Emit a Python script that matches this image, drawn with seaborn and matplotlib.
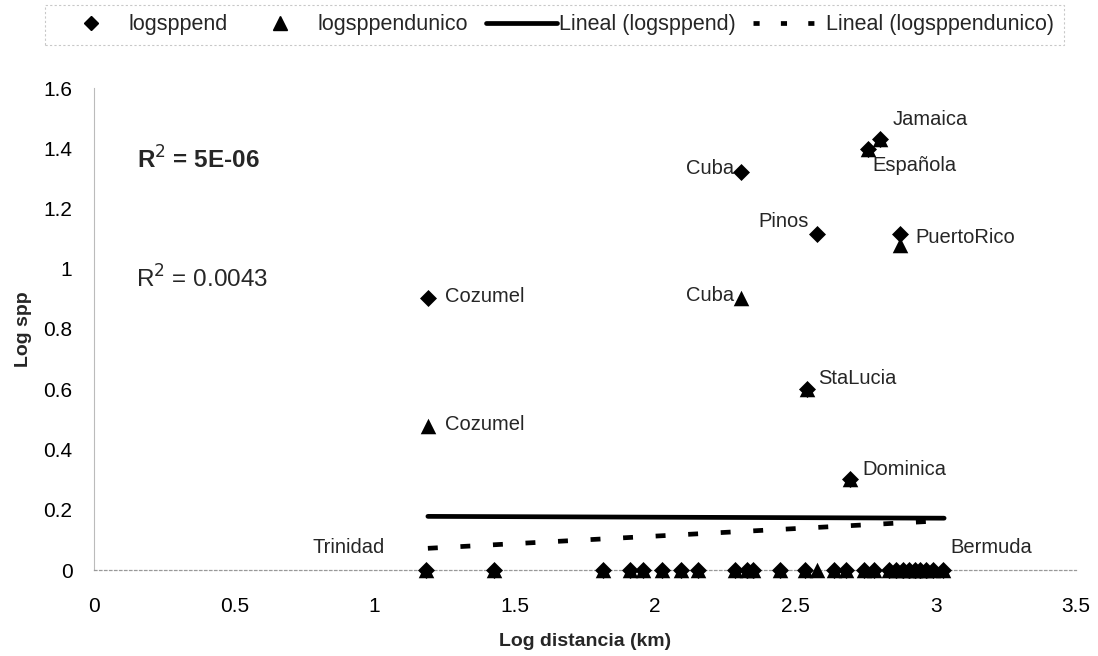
import numpy as np
import pandas as pd
import matplotlib
matplotlib.use("Agg")
import matplotlib.pyplot as plt
import seaborn as sns
from matplotlib.lines import Line2D

# ---------------- data ----------------
islands = ["Cozumel", "Trinidad", "", "", "", "", "", "", "", "", "", "",
           "", "Cuba", "StaLucia", "Pinos", "", "", "Dominica", "", "Española",
           "", "Jamaica", "", "", "PuertoRico", "", "", "", "", "", "", "", "Bermuda"]
log_distancia = [1.19, 1.185, 1.424, 1.814, 1.912, 1.957, 2.024, 2.092, 2.151, 2.286,
                 2.326, 2.350, 2.445, 2.305, 2.540, 2.576, 2.533, 2.636, 2.695, 2.679,
                 2.760, 2.743, 2.802, 2.779, 2.835, 2.873, 2.860, 2.885, 2.905, 2.925,
                 2.945, 2.965, 2.990, 3.027]
logsppend = [0.903, 0, 0, 0, 0, 0, 0, 0, 0, 0,
             0, 0, 0, 1.322, 0.602, 1.114, 0, 0, 0.301, 0,
             1.398, 0, 1.431, 0, 0, 1.114, 0, 0, 0, 0,
             0, 0, 0, 0]
logsppendunico = [0.477, 0, 0, 0, 0, 0, 0, 0, 0, 0,
                  0, 0, 0, 0.903, 0.602, 0, 0, 0, 0.301, 0,
                  1.398, 0, 1.431, 0, 0, 1.079, 0, 0, 0, 0,
                  0, 0, 0, 0]

trend_x = [1.19, 3.03]
trend_logsppend = [0.178, 0.172]
trend_logsppendunico = [0.072, 0.164]

r2_labels = ["R$^2$ = 5E-06", "R$^2$ = 0.0043"]

df = pd.DataFrame({"island": islands, "x": log_distancia,
                   "end": logsppend, "unico": logsppendunico})

# ---------------- style ----------------
sns.set_style("white")
plt.rcParams["font.family"] = ["Liberation Sans", "DejaVu Sans"]

fig = plt.figure(figsize=(10.98, 6.56), dpi=100)
ax = fig.add_axes([94 / 1098, 1 - 570 / 656, (1076 - 94) / 1098, (570 - 88) / 656])

# trend lines
sns.lineplot(x=trend_x, y=trend_logsppend, ax=ax, color="black", linewidth=3.4)
sns.lineplot(x=trend_x, y=trend_logsppendunico, ax=ax, color="black", linewidth=3.4)
ax.lines[-1].set_linestyle((0, (2.1, 4.8)))
ax.lines[-1].set_dash_capstyle("butt")

# points
sns.scatterplot(data=df, x="x", y="end", ax=ax, marker="D", s=75,
                color="black", edgecolor="black", linewidth=0, zorder=3, clip_on=False)
sns.scatterplot(data=df, x="x", y="unico", ax=ax, marker="^", s=125,
                color="black", edgecolor="black", linewidth=0, zorder=4, clip_on=False)

# labels (offsets in points)
lab_font = 14.5
end_offsets = {
    "Cozumel": (12, 1, "left"),
    "Cuba": (-5, 2, "right"),
    "Pinos": (-6, 9, "right"),
    "Jamaica": (9, 14, "left"),
    "Española": (3, -12, "left"),
    "PuertoRico": (11, -2, "left"),
    "StaLucia": (8, 7, "left"),
    "Dominica": (9, 7, "left"),
    "Trinidad": (-30, 16, "right"),
    "Bermuda": (5, 16, "left"),
}
unico_offsets = {
    "Cozumel": (12, 1, "left"),
    "Cuba": (-5, 2, "right"),
}
for name, xv, yv in zip(islands, log_distancia, logsppend):
    if name in end_offsets:
        dx, dy, ha = end_offsets[name]
        ax.annotate(name, (xv, yv), xytext=(dx, dy), textcoords="offset points",
                    ha=ha, va="center", fontsize=lab_font)
for name, xv, yv in zip(islands, log_distancia, logsppendunico):
    if name in unico_offsets:
        dx, dy, ha = unico_offsets[name]
        ax.annotate(name, (xv, yv), xytext=(dx, dy), textcoords="offset points",
                    ha=ha, va="center", fontsize=lab_font)

ax.text(0.155, 1.36, r2_labels[0], fontsize=17.5, fontweight="bold", va="center")
ax.text(0.15, 0.965, r2_labels[1], fontsize=17.5, va="center")

# axes
ax.set_xlim(0, 3.5)
ax.set_ylim(0, 1.6)
ax.set_xticks(np.arange(0, 3.51, 0.5))
ax.set_yticks(np.arange(0, 1.61, 0.2))
ax.set_xticklabels(["0", "0.5", "1", "1.5", "2", "2.5", "3", "3.5"])
ax.set_yticklabels(["0", "0.2", "0.4", "0.6", "0.8", "1", "1.2", "1.4", "1.6"])
ax.tick_params(axis="both", labelsize=15, colors="#999999", labelcolor="black",
               length=3, width=0.8, direction="inout")
ax.tick_params(axis="x", pad=18)
ax.tick_params(axis="y", pad=14)
for s in ["top", "right"]:
    ax.spines[s].set_visible(False)
ax.spines["left"].set_color("#bbbbbb")
ax.spines["left"].set_linewidth(0.8)
ax.spines["bottom"].set_color("#999999")
ax.spines["bottom"].set_linestyle((0, (2, 2)))
ax.spines["bottom"].set_linewidth(0.9)
ax.set_xlabel("Log distancia (km)", fontsize=14, fontweight="bold", labelpad=12)
ax.set_ylabel("Log spp", fontsize=14, fontweight="bold", labelpad=8)
ax.set_facecolor("white")

# legend
handles = [
    Line2D([], [], marker="D", color="black", linestyle="none", markersize=7),
    Line2D([], [], marker="^", color="black", linestyle="none", markersize=10),
    Line2D([], [], color="black", linewidth=3.4),
    Line2D([], [], color="black", linewidth=3.4, linestyle=(0, (1.3, 4.5))),
]
labels = ["logsppend", "logsppendunico", "Lineal (logsppend)", "Lineal (logsppendunico)"]
leg = fig.legend(handles, labels, loc="center", bbox_to_anchor=(0.505, 0.962), ncol=4,
                 fontsize=15.5, frameon=True, fancybox=False, handlelength=3.3,
                 columnspacing=0.8, handletextpad=0.1, borderpad=0.45)
leg.get_frame().set_edgecolor("#bbbbbb")
leg.get_frame().set_linestyle((0, (2, 2)))
leg.get_frame().set_linewidth(0.8)

fig.savefig("out.png", dpi=100, facecolor="white")
